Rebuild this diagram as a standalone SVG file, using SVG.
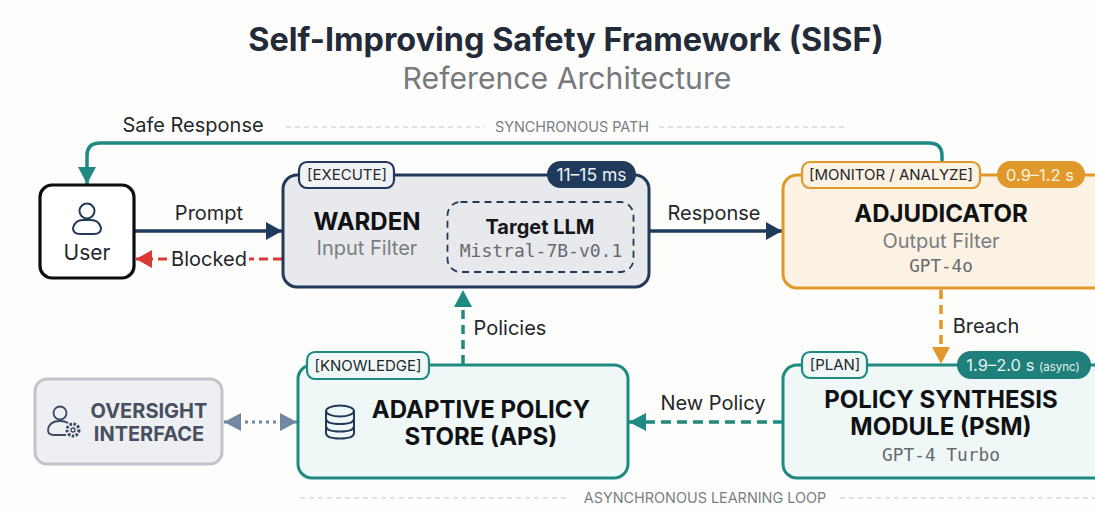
<svg xmlns="http://www.w3.org/2000/svg" width="1095" height="511" viewBox="0 0 1095 511">
<defs>
<marker id="aNavy" markerUnits="userSpaceOnUse" markerWidth="16" markerHeight="18" refX="16" refY="9" orient="auto"><path d="M0 0L16 9L0 18Z" fill="#1f3a5a"/></marker>
<marker id="aTeal" markerUnits="userSpaceOnUse" markerWidth="18" markerHeight="18" refX="17" refY="9" orient="auto"><path d="M0 0L17 9L0 18Z" fill="#1f8a82"/></marker>
<marker id="aRed" markerUnits="userSpaceOnUse" markerWidth="16" markerHeight="18" refX="16" refY="9" orient="auto"><path d="M0 0L16 9L0 18Z" fill="#d93a36"/></marker>
<marker id="aOrange" markerUnits="userSpaceOnUse" markerWidth="18" markerHeight="18" refX="17" refY="9" orient="auto"><path d="M0 0L17 9L0 18Z" fill="#e0982a"/></marker>
<marker id="aSlate" markerUnits="userSpaceOnUse" markerWidth="17" markerHeight="18" refX="17" refY="9" orient="auto-start-reverse"><path d="M0 0L17 9L0 18Z" fill="#7287a3"/></marker>
</defs>
<style>
text{font-family:"Inter","Liberation Sans",sans-serif;fill:#24272b}
.mono{font-family:"DejaVu Sans Mono","Liberation Mono",monospace;fill:#666a6e}
.title{font-weight:700;font-size:24px;fill:#0f1114;text-anchor:middle}
.sub{font-size:20px;fill:#7a7d80;text-anchor:middle}
.lab{font-size:20px;text-anchor:middle}
.tag{font-size:15px;text-anchor:middle}
.sec{font-size:14.4px;fill:#7b7e82;text-anchor:middle}
.div{stroke:#c4c6c8;stroke-width:1.2;stroke-dasharray:5 4;fill:none}
.ic{fill:none;stroke:#22395a;stroke-width:2}
</style>
<rect width="1095" height="511" fill="#fdfdfc"/>
<text x="566" y="51" font-size="32.400" font-weight="700" text-anchor="middle" style="fill:#232a38">Self-Improving Safety Framework (SISF)</text>
<text x="567" y="89" font-size="30.200" text-anchor="middle" style="fill:#77797c">Reference Architecture</text>
<g id="section-labels">
<path class="div" d="M286 127H485M659 127H848"/>
<text class="sec" x="572" y="132">SYNCHRONOUS PATH</text>
<path class="div" d="M300 498H570M840 498H1095"/>
<text class="sec" x="705" y="503">ASYNCHRONOUS LEARNING LOOP</text>
</g>
<g id="connectors" fill="none">
<path d="M942 163V156Q942 143 929 143H100Q87 143 87 156V184" stroke="#1f8a82" stroke-width="3.500" marker-end="url(#aTeal)"/>
<path d="M135 231H282" stroke="#1f3a5a" stroke-width="3.500" marker-end="url(#aNavy)"/>
<path d="M282 259H249" stroke="#d93a36" stroke-width="3" stroke-dasharray="9 5"/>
<path d="M167 259H136" stroke="#d93a36" stroke-width="3" stroke-dasharray="9 5" marker-end="url(#aRed)"/>
<path d="M650 231H782" stroke="#1f3a5a" stroke-width="3.500" marker-end="url(#aNavy)"/>
<path d="M463 364V290" stroke="#1f8a82" stroke-width="3.500" stroke-dasharray="9 6" marker-end="url(#aTeal)"/>
<path d="M941 290V364" stroke="#e0982a" stroke-width="3.500" stroke-dasharray="9 6" marker-end="url(#aOrange)"/>
<path d="M783 422H629" stroke="#1f8a82" stroke-width="3.500" stroke-dasharray="10 6" marker-end="url(#aTeal)"/>
<path d="M224 422H297" stroke="#7287a3" stroke-width="3" stroke-dasharray="3 4" marker-start="url(#aSlate)" marker-end="url(#aSlate)"/>
<text class="lab" x="193" y="132">Safe Response</text>
<text class="lab" x="209" y="220">Prompt</text>
<text class="lab" x="209" y="266">Blocked</text>
<text class="lab" x="714" y="220">Response</text>
<text class="lab" x="510" y="335">Policies</text>
<text class="lab" x="986" y="333">Breach</text>
<text class="lab" x="713" y="410">New Policy</text>
</g>
<g id="user">
<rect x="40" y="185" width="94" height="93" rx="12" fill="#fff" stroke="#0c0d0f" stroke-width="3.200"/>
<circle class="ic" cx="87" cy="211" r="7.500"/>
<path class="ic" d="M80 234H94Q101 234 101 228Q99 220 91 220H83Q75 220 73 228Q73 234 80 234Z"/>
<text x="87" y="260" font-size="21" text-anchor="middle">User</text>
</g>
<g id="warden">
<rect x="283" y="175" width="366" height="112" rx="14" fill="#e8e9ec" stroke="#22395a" stroke-width="3"/>
<rect x="299" y="162" width="95" height="26" rx="8" fill="#f1f2f4" stroke="#22395a" stroke-width="2.200"/>
<text class="tag" x="347" y="180">[EXECUTE]</text>
<rect x="547" y="161" width="89" height="27" rx="13.500" fill="#1f3a5a"/>
<text x="591.500" y="181" font-size="17.500" text-anchor="middle" style="fill:#eef1f4">11–15 ms</text>
<text class="title" x="367" y="230">WARDEN</text>
<text class="sub" x="367" y="255">Input Filter</text>
<rect x="447.500" y="202" width="186" height="70" rx="13" fill="none" stroke="#22395a" stroke-width="1.800" stroke-dasharray="7 5"/>
<text x="540" y="234" font-size="20" font-weight="700" text-anchor="middle" style="fill:#14161a">Target LLM</text>
<text class="mono" x="541" y="257" font-size="18" text-anchor="middle">Mistral-7B-v0.1</text>
</g>
<g id="adjudicator">
<rect x="783" y="175" width="330" height="113" rx="14" fill="#fbf2e3" stroke="#e0982a" stroke-width="3"/>
<rect x="802" y="162" width="178" height="26" rx="8" fill="#fbf2e3" stroke="#e0982a" stroke-width="2.200"/>
<text class="tag" x="891" y="180">[MONITOR / ANALYZE]</text>
<rect x="997" y="161" width="88" height="27" rx="13.500" fill="#e0982a"/>
<text x="1040" y="181" font-size="16.500" text-anchor="middle" style="fill:#fdf3e2">0.9–1.2 s</text>
<text class="title" x="941" y="222">ADJUDICATOR</text>
<text class="sub" x="941" y="248">Output Filter</text>
<text class="mono" x="941" y="272" font-size="17.600" text-anchor="middle">GPT-4o</text>
</g>
<g id="aps">
<rect x="298" y="365" width="330" height="113" rx="14" fill="#eff8f6" stroke="#1f8a82" stroke-width="3"/>
<rect x="307" y="352" width="122" height="27" rx="8" fill="#eff8f6" stroke="#1f8a82" stroke-width="2.200"/>
<text class="tag" x="368" y="371">[KNOWLEDGE]</text>
<g class="ic">
<ellipse cx="340" cy="411" rx="14" ry="5.500"/>
<path d="M326 411V433Q326 438.500 340 438.500Q354 438.500 354 433V411M326 418.500Q326 424 340 424Q354 424 354 418.500M326 426Q326 431.500 340 431.500Q354 431.500 354 426"/>
</g>
<text class="title" x="481" y="418">ADAPTIVE POLICY</text>
<text class="title" x="481" y="445">STORE (APS)</text>
</g>
<g id="psm">
<rect x="783" y="365" width="330" height="113" rx="14" fill="#eff8f6" stroke="#1f8a82" stroke-width="3"/>
<rect x="802" y="352" width="65" height="26" rx="8" fill="#eff8f6" stroke="#1f8a82" stroke-width="2.200"/>
<text class="tag" x="835" y="370">[PLAN]</text>
<rect x="957" y="351" width="134" height="28" rx="14" fill="#1f7f7a"/>
<text x="1023" y="371" text-anchor="middle" style="fill:#e6f3f1"><tspan font-size="16.500">1.9–2.0 s </tspan><tspan font-size="11.500">(async)</tspan></text>
<text class="title" x="941" y="408">POLICY SYNTHESIS</text>
<text class="title" x="941" y="435">MODULE (PSM)</text>
<text class="mono" x="941" y="461" font-size="17.800" text-anchor="middle">GPT-4 Turbo</text>
</g>
<g id="oversight">
<rect x="35" y="379" width="187" height="85" rx="12" fill="#eeeff2" stroke="#c1c5cb" stroke-width="3"/>
<circle cx="60" cy="413" r="6.500" fill="none" stroke="#3b4a63" stroke-width="1.800"/>
<path d="M66 435H54Q48 435 48 430Q49 421 60 421Q65 421 68 423" fill="none" stroke="#3b4a63" stroke-width="1.800"/>
<circle cx="73" cy="430" r="6" fill="none" stroke="#3b4a63" stroke-width="3" stroke-dasharray="2.500 1.500"/>
<circle cx="73" cy="430" r="2" fill="none" stroke="#3b4a63" stroke-width="1.300"/>
<text x="149" y="418" font-size="20" font-weight="700" text-anchor="middle" style="fill:#474f60">OVERSIGHT</text>
<text x="149" y="441" font-size="20" font-weight="700" text-anchor="middle" style="fill:#474f60">INTERFACE</text>
</g>
</svg>
